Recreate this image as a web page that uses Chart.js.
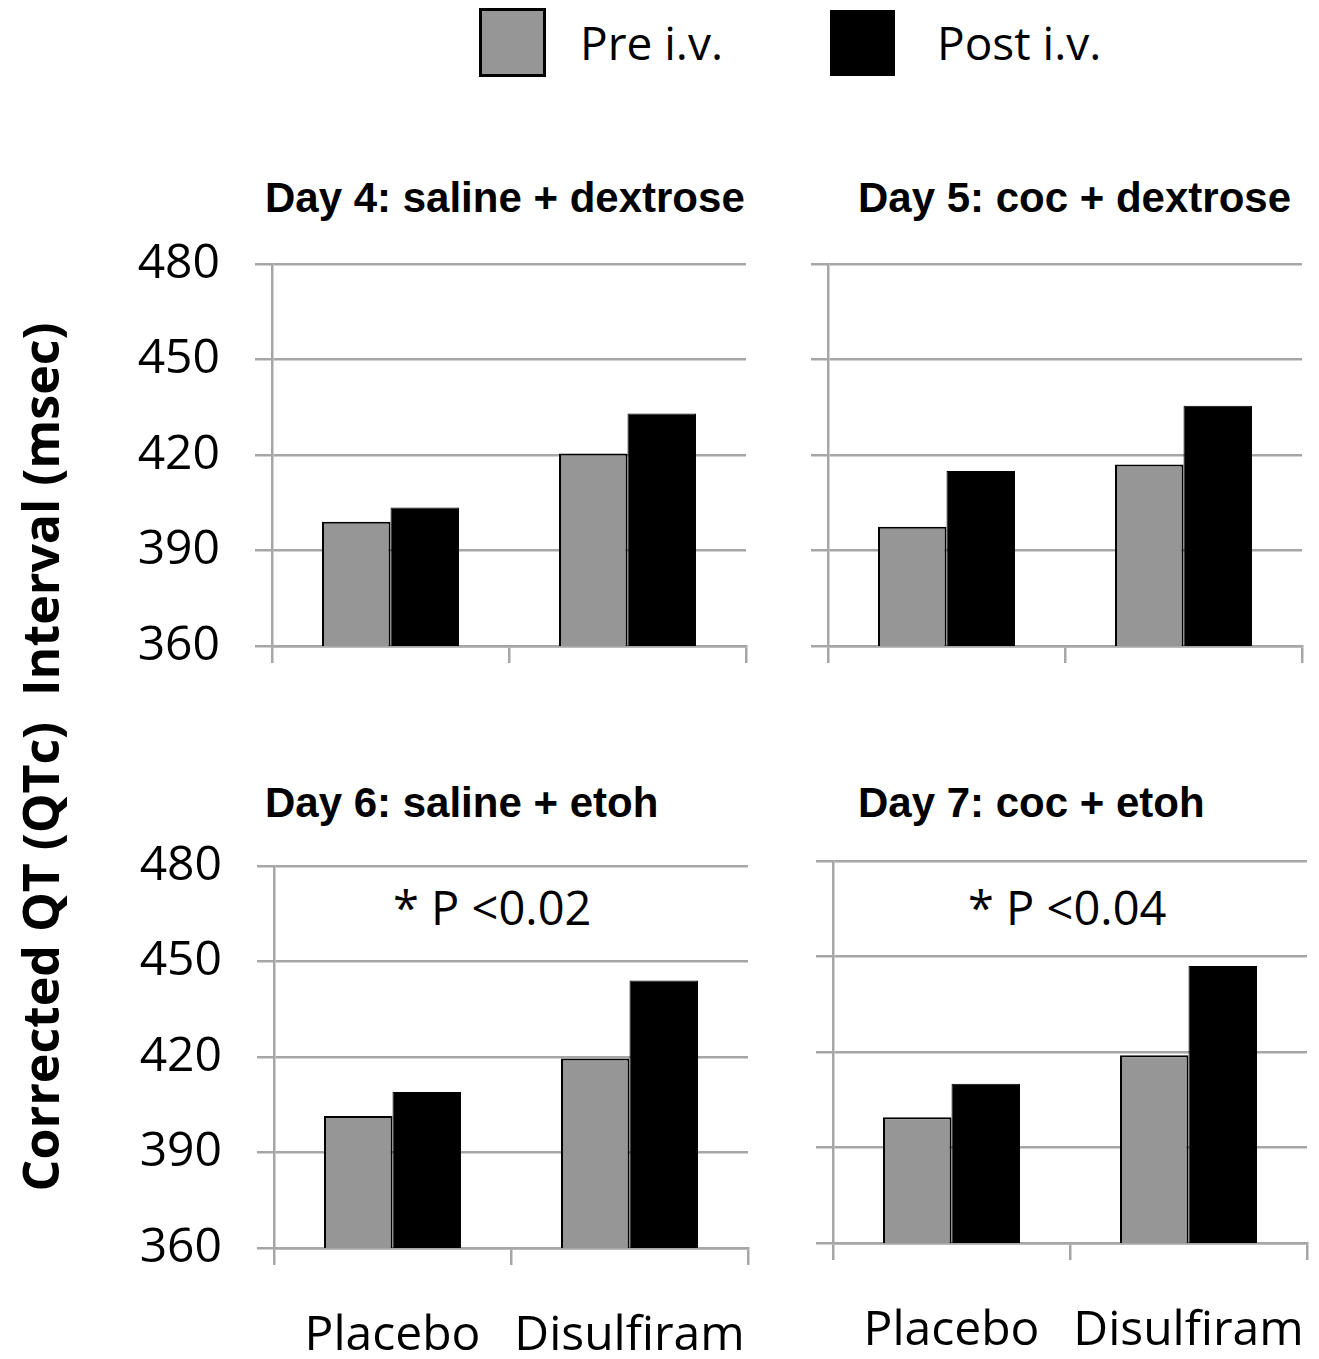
<!DOCTYPE html>
<html>
<head>
<meta charset="utf-8">
<script src="https://cdn.jsdelivr.net/npm/chart.js@4.4.1/dist/chart.umd.min.js"></script>
<style>
  body { margin: 0; background: #fff; }
  #page { position: relative; width: 1319px; height: 1359px; overflow: hidden; font-family: "Open Sans", sans-serif; }
  .panel { position: absolute; }
  .title { position: absolute; font-family: "Liberation Sans", Arial, sans-serif; font-weight: bold; font-size: 42px; white-space: nowrap; line-height: 1; }
  .note { position: absolute; font-size: 47px; white-space: nowrap; line-height: 1; }
  .legbox { position: absolute; box-sizing: border-box; }
  .legtext { position: absolute; font-size: 46px; white-space: nowrap; line-height: 1; }
  #ytitle { position: absolute; left: 40px; top: 757px; transform: translate(-50%, -50%) rotate(-90deg);
            font-weight: bold; font-size: 50px; white-space: pre; line-height: 1; }
</style>
</head>
<body>
<div id="page">
  <!-- leyenda -->
  <div class="legbox" style="left:479px;top:8px;width:67px;height:69px;background:#969696;border:3px solid #000;"></div>
  <div class="legtext" style="left:580px;top:19px;">Pre i.v.</div>
  <div class="legbox" style="left:830px;top:10px;width:65px;height:66px;background:#000;"></div>
  <div class="legtext" style="left:937px;top:19px;">Post i.v.</div>

  <div id="ytitle">Corrected QT (QTc)  Interval (msec)</div>

  <div class="title" style="left:265px;top:177px;">Day 4: saline + dextrose</div>
  <div class="title" style="left:858px;top:177px;">Day 5: coc + dextrose</div>
  <div class="title" style="left:265px;top:782px;">Day 6: saline + etoh</div>
  <div class="title" style="left:858px;top:782px;">Day 7: coc + etoh</div>

  <div class="note" style="left:393px;top:884px;">* P &lt;0.02</div>
  <div class="note" style="left:968px;top:884px;">* P &lt;0.04</div>

  <div class="panel" id="p4"><canvas id="c4"></canvas></div>
  <div class="panel" id="p5"><canvas id="c5"></canvas></div>
  <div class="panel" id="p6"><canvas id="c6"></canvas></div>
  <div class="panel" id="p7"><canvas id="c7"></canvas></div>
</div>

<script>
// ----------------------------------------------------------
// Datos (QTc en msec)
// ----------------------------------------------------------
const categories = ["Placebo", "Disulfiram"];
const yTicks = [360, 390, 420, 450, 480];

const day4Pre = [399, 420.5];
const day4Post = [403.5, 433];
const day5Pre = [397.5, 417];
const day5Post = [415, 435.5];
const day6Pre = [401.5, 419.5];
const day6Post = [409, 444];
const day7Pre = [399.5, 419];
const day7Post = [410, 447];

const GRID = "#a6a6a6";
const PRE_COLOR = "#969696";
const POST_COLOR = "#000000";

Chart.defaults.font.family = "'Open Sans', sans-serif";
Chart.defaults.color = "#000";

// ----------------------------------------------------------
// Crea un panel; area = zona de trazado deseada en la página.
// Los márgenes deben superar lo que reservan las etiquetas
// (media altura/anchura + ticks.padding), si no el área se encoge
// ----------------------------------------------------------
function renderPanel(id, area, pre, post, showY, showX) {
    const yAxisW = 180;
    const padTop = 70;
    const padRight = showX ? 60 : 12;
    const xAxisH = showX ? 115 : 70;

    const left = area.left - yAxisW;
    const top = area.top - padTop;
    const width = yAxisW + (area.right - area.left) + padRight;
    const height = padTop + (area.bottom - area.top) + xAxisH;

    const box = document.getElementById("p" + id);
    box.style.left = left + "px";
    box.style.top = top + "px";
    const canvas = document.getElementById("c" + id);
    canvas.width = width;
    canvas.height = height;

    new Chart(canvas.getContext("2d"), {
        type: "bar",
        data: {
            labels: categories,
            datasets: [
                {
                    label: "Pre i.v.",
                    data: pre,
                    backgroundColor: PRE_COLOR,
                    borderColor: "#000",
                    borderWidth: 2
                },
                {
                    label: "Post i.v.",
                    data: post,
                    backgroundColor: POST_COLOR,
                    borderColor: "#000",
                    borderWidth: 1
                }
            ]
        },
        options: {
            responsive: false,
            animation: false,
            layout: { padding: { top: padTop, right: padRight, left: 0, bottom: 0 } },
            datasets: { bar: { barPercentage: 1, categoryPercentage: 0.578 } },
            plugins: { legend: { display: false }, tooltip: { enabled: false } },
            scales: {
                x: {
                    grid: { display: true, drawOnChartArea: false, drawTicks: true, tickLength: 17, color: GRID, lineWidth: 2.5, offset: true },
                    border: { display: true, color: GRID, width: 2.5 },
                    ticks: { display: showX, font: { size: 48 }, padding: 43, maxRotation: 0, autoSkip: false },
                    afterFit: (scale) => { scale.height = xAxisH; }
                },
                y: {
                    min: yTicks[0],
                    max: yTicks[yTicks.length - 1],
                    afterBuildTicks: (scale) => { scale.ticks = yTicks.map(v => ({ value: v })); },
                    grid: { color: GRID, lineWidth: 2.5, tickLength: 17, drawTicks: true },
                    border: { display: true, color: GRID, width: 2.5 },
                    ticks: { display: showY, font: { size: 48 }, padding: 35 },
                    afterFit: (scale) => { scale.width = yAxisW; }
                }
            }
        }
    });
}

renderPanel(4, { left: 272, top: 263.5, right: 746, bottom: 645.5 }, day4Pre, day4Post, true, false);
renderPanel(5, { left: 828, top: 263.5, right: 1302, bottom: 645.5 }, day5Pre, day5Post, false, false);
renderPanel(6, { left: 274, top: 866, right: 748, bottom: 1248 }, day6Pre, day6Post, true, true);
renderPanel(7, { left: 833, top: 860.5, right: 1307, bottom: 1242.5 }, day7Pre, day7Post, false, true);
</script>
</body>
</html>
